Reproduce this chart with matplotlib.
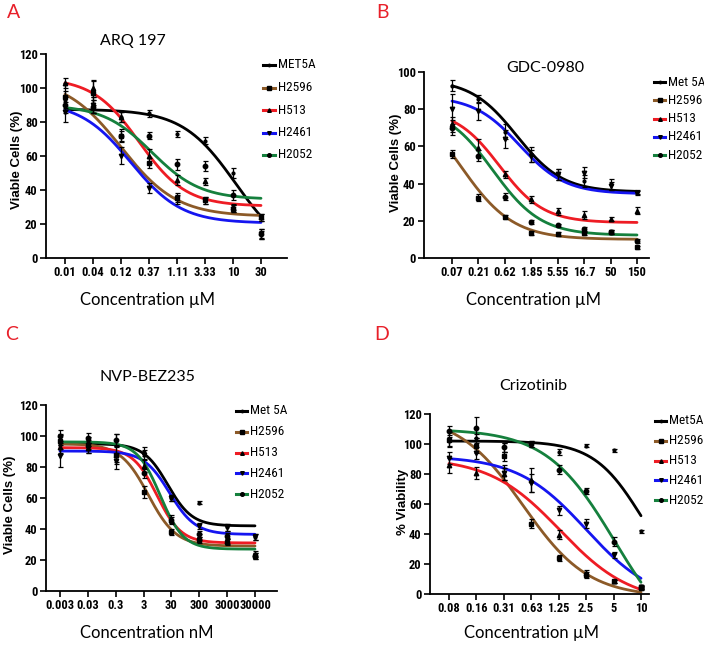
import numpy as np
import matplotlib
matplotlib.use('Agg')
import matplotlib.pyplot as plt
from matplotlib.lines import Line2D
from matplotlib import font_manager
from matplotlib.font_manager import FontProperties

W, H = 704, 646
fig = plt.figure(figsize=(W / 100, H / 100), dpi=100)


def _wnum(w):
    if isinstance(w, (int, float)):
        return w
    return {'bold': 700, 'normal': 400, 'regular': 400, 'medium': 500,
            'semibold': 600, 'demibold': 600, 'heavy': 800, 'black': 900,
            'light': 300}.get(str(w).lower(), 400)


def _find_condensed(bold):
    order = ['Liberation Sans Narrow', 'Arial Narrow', 'Roboto Condensed', 'Roboto',
             'Noto Sans', 'Open Sans', 'DejaVu Sans', 'Lato', 'Inter']
    best = None
    for f in font_manager.fontManager.ttflist:
        narrowish = (str(f.stretch) in ('condensed', 'semi-condensed', 'extra-condensed')
                     or 'Narrow' in f.name or 'Condensed' in f.name
                     or 'Condensed' in f.fname or 'Narrow' in f.fname)
        if not narrowish or f.style != 'normal':
            continue
        w = _wnum(f.weight)
        if bold and not (600 <= w <= 750):
            continue
        if not bold and not (380 <= w <= 450):
            continue
        rank = next((i for i, n in enumerate(order) if f.name.startswith(n)), 99)
        if best is None or rank < best[0]:
            best = (rank, f.fname)
    return None if best is None else best[1]


_nb = _find_condensed(True)
_nr = _find_condensed(False)


def narrow_fp(size, bold):
    path = _nb if bold else _nr
    if path is not None:
        return FontProperties(fname=path, size=size)
    return FontProperties(family=['Liberation Sans', 'DejaVu Sans'], size=size * 0.84,
                          weight='bold' if bold else 'normal')


SANS = ['Liberation Sans', 'DejaVu Sans']
CAL = ['Lato', 'DejaVu Sans']

colors = ['#000000', '#8c5a28', '#ee1c24', '#1515f0', '#15803d']
markers = ['.', 's', '^', 'v', 'o']

# ---------------- Panel A : ARQ 197 ----------------
a_ticks = ['0.01', '0.04', '0.12', '0.37', '1.11', '3.33', '10', '30']
a_names = ['MET5A', 'H2596', 'H513', 'H2461', 'H2052']
a_means = [
    [93, 89, 83, 85, 73, 69, 50, 14],
    [95, 97, 72, 56, 35, 34, 29, 24],
    [103, 100, 83, 60, 46, 45, 30, 24],
    [86, 90, 60, 41, 35, 34, 29, 14],
    [90, 89, 72, 72, 55, 54, 37, 14],
]
a_errs = [
    [5, 4, 3, 2, 2, 2, 3, 3],
    [8, 7, 4, 3, 3, 2, 2, 2],
    [3, 5, 3, 4, 3, 2, 2, 2],
    [6, 5, 5, 3, 2, 2, 2, 2],
    [5, 4, 3, 2, 3, 3, 3, 3],
]
# fitted curve parameters: top, bottom, midpoint (tick index), slope
a_fit = [
    [87.5, 0, 6.1, 1.05],
    [106, 24.5, 2.0, 1.0],
    [106, 30.5, 2.65, 1.2],
    [92, 20.5, 2.35, 1.1],
    [90, 34.5, 3.1, 1.15],
]

# ---------------- Panel B : GDC-0980 ----------------
b_ticks = ['0.07', '0.21', '0.62', '1.85', '5.55', '16.7', '50', '150']
b_names = ['Met 5A', 'H2596', 'H513', 'H2461', 'H2052']
b_means = [
    [92.7, 85.5, 68, 55.7, 45, 41.4, 39.6, 35.5],
    [56, 32.5, 22, 13.5, 12.9, 13.2, 13.8, 5.7],
    [72, 59, 45, 31.6, 25, 23, 20.9, 25.4],
    [80, 79, 64, 54.8, 45, 45.9, 38.8, 35],
    [70, 55, 33, 19.5, 17.5, 15.5, 13.8, 9.3],
]
b_errs = [
    [3, 2, 4, 4, 3, 3, 3, 1],
    [2, 2, 1, 1, 1, 1, 1, 1],
    [4, 5, 2, 2, 2, 2, 1, 2],
    [8, 5, 5, 3, 3, 3, 2, 1],
    [4, 3, 2, 1, 1, 1, 1, 1],
]
b_fit = [
    [96, 35.5, 2.45, 1.15],
    [90, 10, 0.3, 1.0],
    [80, 19, 1.8, 1.2],
    [87, 34.5, 2.55, 1.15],
    [82, 12.2, 1.55, 1.1],
]

# ---------------- Panel C : NVP-BEZ235 ----------------
c_ticks = ['0.003', '0.03', '0.3', '3', '30', '300', '3000', '30000']
c_names = ['Met 5A', 'H2596', 'H513', 'H2461', 'H2052']
c_means = [
    [94.4, 96.5, 97.6, 90, 60, 57, 41, 34.6],
    [96.5, 94.4, 88, 64, 38, 33, 31.4, 22.4],
    [93, 92.2, 88, 80.5, 46, 34.6, 32.5, 24],
    [87, 92.2, 84, 88, 60, 42, 41, 34.6],
    [99.7, 98.7, 97.6, 76, 46, 36.7, 35.7, 22.4],
]
c_errs = [
    [6, 3, 4, 3, 2, 1, 2, 2],
    [5, 3, 5, 4, 2, 2, 2, 2],
    [4, 3, 6, 4, 2, 2, 2, 2],
    [7, 3, 5, 3, 2, 2, 2, 2],
    [4, 3, 4, 3, 3, 2, 2, 2],
]
c_fit = [
    [95, 42, 3.87, 2.3],
    [95, 29, 3.17, 2.0],
    [92.5, 31, 3.48, 2.3],
    [90.3, 36.5, 3.93, 2.15],
    [96.2, 27, 3.6, 2.4],
]

# ---------------- Panel D : Crizotinib ----------------
d_ticks = ['0.08', '0.16', '0.31', '0.63', '1.25', '2.5', '5', '10']
d_names = ['Met5A', 'H2596', 'H513', 'H2461', 'H2052']
d_means = [
    [102, 104, 98, 100, 95, 99, 96, 42],
    [103, 99, 92, 47, 24, 13, 8.5, 4],
    [86, 81, 80, 76, 39.5, 14, 8.5, 4.5],
    [91, 94, 81, 74, 56, 47, 26, 5],
    [109, 111, 98, 100, 82.7, 69, 35, 4.5],
]
d_errs = [
    [3, 3, 3, 2, 2, 1, 1, 1],
    [5, 5, 3, 3, 2, 2, 1, 1],
    [5, 4, 4, 8, 3, 2, 1, 1],
    [4, 4, 5, 6, 3, 3, 2, 1],
    [3, 7, 3, 2, 3, 2, 3, 1],
]
d_fit = [
    [102, 0, 7.04, 1.135],
    [120, -2, 2.7, 0.84],
    [91, -6, 4.05, 0.775],
    [92, -6, 5.0, 0.8],
    [110, -40, 6.05, 0.8],
]

panels = [
    dict(letter='A', title='ARQ 197', ticks=a_ticks, names=a_names, means=a_means,
         errs=a_errs, fit=a_fit, ylabel='Viable Cells (%)', xlabel='Concentration µM',
         box=(46, 287, 54, 258), x0=65, x7=261, ymax=120,
         letter_xy=(7, 13), title_xy=(133, 41), xlabel_xy=(147, 300), ylabel_xy=(17, 160),
         leg=(263, 275, 278, 65, 22.5)),
    dict(letter='B', title='GDC-0980', ticks=b_ticks, names=b_names, means=b_means,
         errs=b_errs, fit=b_fit, ylabel='Viable Cells (%)', xlabel='Concentration µM',
         box=(424, 649, 72, 258), x0=452, x7=637, ymax=100,
         letter_xy=(376, 13), title_xy=(545, 68), xlabel_xy=(533, 300), ylabel_xy=(396, 163),
         leg=(654, 665, 668, 82, 18.3)),
    dict(letter='C', title='NVP-BEZ235', ticks=c_ticks, names=c_names, means=c_means,
         errs=c_errs, fit=c_fit, ylabel='Viable Cells (%)', xlabel='Concentration nM',
         box=(46, 277, 405, 591), x0=60, x7=255, ymax=120,
         letter_xy=(5, 335), title_xy=(147, 377), xlabel_xy=(147, 633), ylabel_xy=(10, 505),
         leg=(236, 247, 250, 411, 20.8)),
    dict(letter='D', title='Crizotinib', ticks=d_ticks, names=d_names, means=d_means,
         errs=d_errs, fit=d_fit, ylabel='% Viability', xlabel='Concentration µM',
         box=(430, 649, 414, 594), x0=449, x7=641, ymax=120,
         letter_xy=(374, 335), title_xy=(533, 386), xlabel_xy=(532, 633), ylabel_xy=(403, 502),
         leg=(655, 666, 669, 421, 19.8)),
]


def fx(px):
    return px / W


def fy(py):
    return 1 - py / H


for p in panels:
    left, right, top, bottom = p['box']
    ax = fig.add_axes([fx(left), fy(bottom), (right - left) / W, (bottom - top) / H])
    unit = (p['x7'] - p['x0']) / 7.0
    ax.set_xlim(-(p['x0'] - left) / unit, 7 + (right - p['x7']) / unit)
    ax.set_ylim(0, p['ymax'])
    for s in ['top', 'right']:
        ax.spines[s].set_visible(False)
    for s in ['left', 'bottom']:
        ax.spines[s].set_linewidth(1.3)
    idx = np.arange(len(p['ticks']))
    ax.set_xticks(idx)
    ax.set_xticklabels(p['ticks'])
    ax.set_yticks(np.arange(0, p['ymax'] + 1, 20))
    ax.tick_params(direction='out', length=4, width=1.2, pad=2)
    tick_fp = narrow_fp(9, True)
    for lab in ax.get_xticklabels() + ax.get_yticklabels():
        lab.set_fontproperties(tick_fp)

    xs = np.linspace(0, 7, 300)
    for j in range(5):
        top_v, bot_v, mid, k = p['fit'][j]
        ys = bot_v + (top_v - bot_v) / (1 + np.exp(k * (xs - mid)))
        ax.plot(xs, ys, color=colors[j], lw=2.0, zorder=2, solid_capstyle='round')
    for j in range(5):
        ax.errorbar(idx, p['means'][j], yerr=p['errs'][j], fmt=markers[j], color='black',
                    ms=3.2 if markers[j] != '.' else 4, capsize=1.8, elinewidth=0.9,
                    capthick=0.9, zorder=3, clip_on=False, lw=0)

    # text
    fig.text(fx(p['letter_xy'][0]), fy(p['letter_xy'][1]), p['letter'], color='#e8202a',
             fontsize=14, family=CAL, ha='left', va='center')
    fig.text(fx(p['title_xy'][0]), fy(p['title_xy'][1]), p['title'], fontsize=11.5,
             family=CAL, ha='center', va='center')
    fig.text(fx(p['xlabel_xy'][0]), fy(p['xlabel_xy'][1]), p['xlabel'], fontsize=12,
             family=CAL, ha='center', va='center')
    fig.text(fx(p['ylabel_xy'][0]), fy(p['ylabel_xy'][1]), p['ylabel'], fontsize=9.5,
             family=SANS, fontweight='bold', rotation=90, ha='center', va='center')

    # legend
    lx0, lx1, tx, ly0, dy = p['leg']
    leg_fp = narrow_fp(9.5, False)
    for j in range(5):
        yy = ly0 + j * dy
        fig.add_artist(Line2D([fx(lx0), fx(lx1)], [fy(yy), fy(yy)], color=colors[j], lw=2.2,
                              transform=fig.transFigure))
        fig.add_artist(Line2D([fx((lx0 + lx1) / 2)], [fy(yy)], marker=markers[j], color='black',
                              ms=2.6 if markers[j] != '.' else 3.5, lw=0,
                              transform=fig.transFigure))
        fig.text(fx(tx), fy(yy), p['names'][j], fontproperties=leg_fp,
                 ha='left', va='center')

fig.savefig('out.png', dpi=100)
